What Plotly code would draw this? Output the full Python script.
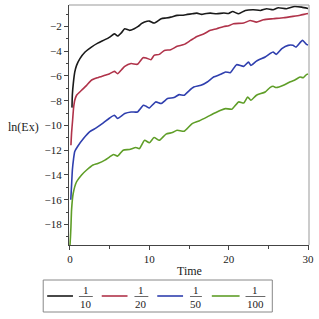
import plotly.graph_objects as go

# ---- data ----
t_black = [0.25, 0.3, 0.42, 0.6, 0.83, 1.25, 1.9, 2.7, 3.5, 4.4, 5.0, 5.6, 6.0, 6.5, 6.9, 7.5, 8.1, 8.6,
           9.0, 9.4, 10.0, 10.6, 11.5, 12.1, 12.7, 13.5, 14.1, 14.8, 15.4, 16.0, 16.6, 17.2, 17.7, 18.5,
           19.4, 20.0, 20.5, 21.25, 22.1, 23.1, 24.0, 24.8, 25.6, 26.25, 27.3, 28.3, 29.2, 30.0]
v_black = [-8.56, -7.5, -6.6, -5.7, -5.15, -4.6, -4.07, -3.67, -3.35, -3.07, -2.86, -2.6, -2.78, -2.5, -2.19,
           -2.32, -2.19, -2.0, -1.78, -1.65, -1.57, -1.73, -1.38, -1.32, -1.25, -1.11, -1.1, -1.03, -0.98,
           -0.93, -1.03, -0.95, -0.93, -0.98, -0.92, -0.95, -0.8, -0.98, -0.71, -0.65, -0.71, -0.57, -0.65,
           -0.49, -0.57, -0.39, -0.44, -0.55]

t_red = [0.12, 0.2, 0.33, 0.45, 0.6, 0.83, 1.46, 2.1, 2.7, 3.5, 4.4, 5.0, 5.6, 6.0, 6.5, 6.9, 7.7, 8.5,
         9.2, 9.6, 10.2, 10.6, 11.25, 11.9, 12.7, 13.5, 14.4, 15.2, 16.0, 16.9, 17.7, 18.5, 19.4, 20.0,
         20.6, 21.9, 22.7, 23.5, 24.4, 25.6, 26.9, 28.1, 29.0, 29.8, 30.0]
v_red = [-11.6, -10.6, -9.58, -8.6, -7.97, -7.56, -7.16, -6.76, -6.35, -6.14, -5.95, -5.82, -5.63, -5.82,
         -5.5, -5.23, -5.0, -5.06, -4.53, -4.55, -4.69, -4.34, -4.26, -3.94, -3.88, -3.61, -3.45, -3.13,
         -2.81, -2.59, -2.32, -2.19, -2.0, -1.95, -1.78, -1.73, -1.52, -1.65, -1.46, -1.38, -1.3, -1.19,
         -1.1, -0.98, -0.96]

t_blue = [0.1, 0.2, 0.3, 0.45, 0.6, 0.96, 1.7, 2.5, 3.3, 4.2, 5.0, 5.6, 6.0, 6.9, 7.7, 8.5, 9.25, 9.6,
          10.0, 10.8, 11.5, 12.3, 13.1, 13.75, 14.4, 15.0, 15.6, 16.5, 17.3, 18.1, 19.0, 19.6, 20.2, 21.0,
          21.9, 22.5, 22.8, 23.5, 24.6, 25.2, 25.6, 26.0, 26.7, 27.5, 28.1, 28.5, 29.3, 29.8, 30.0]
v_blue = [-16.0, -14.8, -13.6, -12.7, -12.1, -11.7, -11.06, -10.5, -10.2, -9.8, -9.4, -9.18, -9.44, -9.04,
          -8.91, -8.91, -8.37, -8.45, -8.59, -8.1, -8.23, -7.83, -7.75, -7.51, -7.56, -7.2, -6.9, -6.76,
          -6.49, -6.09, -5.87, -5.68, -5.74, -5.09, -5.23, -4.88, -5.15, -4.8, -4.47, -4.2, -4.07, -4.26,
          -3.8, -3.53, -3.53, -3.67, -3.13, -3.45, -3.5]

t_green = [0.0, 0.06, 0.12, 0.2, 0.4, 0.83, 1.46, 2.1, 2.9, 3.5, 4.4, 5.0, 5.5, 6.0, 6.7, 7.5, 8.3, 8.75,
           9.4, 10.0, 10.6, 11.25, 12.1, 12.9, 13.5, 14.4, 15.4, 16.25, 17.3, 18.1, 19.0, 19.6, 20.4,
           21.25, 21.9, 22.4, 22.8, 23.5, 24.6, 25.2, 25.6, 26.0, 26.9, 27.7, 28.3, 29.0, 29.4, 29.8, 30.0]
v_green = [-19.66, -19.0, -18.2, -16.8, -15.5, -14.55, -14.0, -13.6, -13.2, -13.07, -12.8, -12.54, -12.35,
           -12.48, -12.0, -11.94, -11.78, -11.87, -11.2, -11.4, -10.98, -11.2, -10.7, -10.58, -10.39,
           -10.47, -9.85, -9.64, -9.31, -9.04, -8.77, -8.64, -8.69, -8.1, -8.18, -7.7, -7.97, -7.56, -7.3,
           -6.94, -6.84, -6.94, -6.76, -6.49, -6.35, -6.09, -6.14, -5.9, -5.85]

series_names = ["1/10", "1/20", "1/50", "1/100"]
denominators = ["10", "20", "50", "100"]
colors = ["#1a1a1a", "#b0334a", "#2f3fae", "#5f9e28"]

x_ticks = [0, 10, 20, 30]
y_ticks = [-18, -16, -14, -12, -10, -8, -6, -4, -2]

FONT = "Liberation Serif, Times New Roman, serif"

W, H = 319, 319
L, R, T, B = 69, 8, 5, 74
PW, PH = W - L - R, H - T - B


def px(x):
    return (x - L) / PW


def py(y):
    return (H - B - y) / PH


fig = go.Figure()
for tt, vv, c, n in zip([t_black, t_red, t_blue, t_green], [v_black, v_red, v_blue, v_green],
                        colors, series_names):
    fig.add_trace(go.Scatter(x=tt, y=vv, mode="lines", name=n, showlegend=False,
                             line=dict(color=c, width=1.6, shape="spline", smoothing=0.5)))

fig.update_layout(
    width=W, height=H, margin=dict(l=L, r=R, t=T, b=B),
    paper_bgcolor="white", plot_bgcolor="white",
    font=dict(family=FONT, size=11, color="#222"),
    xaxis=dict(range=[-0.125, 30.125], tickvals=x_ticks, showgrid=False, zeroline=False,
               showline=True, linecolor="#444", linewidth=1, ticks="outside", ticklen=4,
               tickcolor="#444", ticklabeloverflow="allow",
               minor=dict(tickvals=[5, 15, 25], ticks="outside", ticklen=3, tickcolor="#444"),
               tickfont=dict(size=11)),
    yaxis=dict(range=[-19.66, -0.27], tickvals=y_ticks, showgrid=False, zeroline=False,
               showline=True, linecolor="#444", linewidth=1, ticks="outside", ticklen=4,
               tickcolor="#444", minor=dict(dtick=1, tick0=-1, ticks="outside", ticklen=2, tickcolor="#444"),
               tickfont=dict(size=11)),
)

# top and right frame lines
fig.add_shape(type="line", xref="paper", yref="paper", x0=0, x1=1, y0=1, y1=1,
              line=dict(color="#999", width=1))
fig.add_shape(type="line", xref="paper", yref="paper", x0=1, x1=1, y0=0, y1=1,
              line=dict(color="#999", width=1))

# axis titles
fig.add_annotation(text="ln(Ex)", xref="paper", yref="paper", x=px(23), y=py(127),
                   showarrow=False, xanchor="center", yanchor="middle", font=dict(size=12))
fig.add_annotation(text="Time", xref="paper", yref="paper", x=px(190), y=py(271),
                   showarrow=False, xanchor="center", yanchor="middle", font=dict(size=12))

# legend box
fig.add_shape(type="rect", xref="paper", yref="paper", x0=px(43), x1=px(274), y0=py(312), y1=py(280),
              line=dict(color="#888", width=1), fillcolor="rgba(0,0,0,0)")
samples = [(47, 73), (102, 128), (158, 184), (213, 241)]
bars = [(79, 93), (135, 149), (191, 203), (247, 267)]
for (a, b), (c0, c1), col, den in zip(samples, bars, colors, denominators):
    fig.add_shape(type="line", xref="paper", yref="paper", x0=px(a), x1=px(b), y0=py(296), y1=py(296),
                  line=dict(color=col, width=1.6))
    fig.add_shape(type="line", xref="paper", yref="paper", x0=px(c0), x1=px(c1), y0=py(296.5),
                  y1=py(296.5), line=dict(color="#444", width=0.8))
    cx = px((c0 + c1) / 2)
    fig.add_annotation(text="1", xref="paper", yref="paper", x=cx, y=py(290), showarrow=False,
                       xanchor="center", yanchor="middle", font=dict(size=11))
    fig.add_annotation(text=den, xref="paper", yref="paper", x=cx, y=py(304), showarrow=False,
                       xanchor="center", yanchor="middle", font=dict(size=11))

fig.write_html("out.html", config={"displayModeBar": False},
               post_script="document.body.style.margin='0';")
